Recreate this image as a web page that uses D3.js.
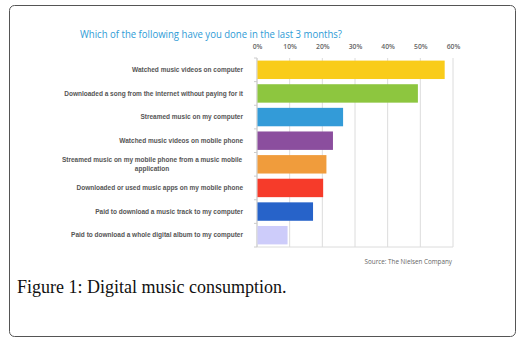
<!DOCTYPE html>
<html>
<head>
<meta charset="utf-8">
<script src="https://cdn.jsdelivr.net/npm/d3@7"></script>
<style>
  body { margin: 0; background: #fff; }
  svg { display: block; }
</style>
</head>
<body>
<div id="chart"></div>
<script>
const categories = [
  "Watched music videos on computer",
  "Downloaded a song from the internet without paying for it",
  "Streamed music on my computer",
  "Watched music videos on mobile phone",
  "Streamed music on my mobile phone from a music mobile|application",
  "Downloaded or used music apps on my mobile phone",
  "Paid to download a music track to my computer",
  "Paid to download a whole digital album to my computer"
];
const values = [57.3, 49.1, 26.2, 23.1, 21.1, 20.1, 17.0, 9.2];
const barColors = ["#f9cc1a", "#8dc63f", "#339bd8", "#8b4e9e", "#f09c3c", "#f63b2a", "#2763c9", "#cdccfa"];
const ticks = [0, 10, 20, 30, 40, 50, 60];

const W = 532, H = 343;
const margin = {top: 58, left: 257, right: 79, bottom: 96};
const width = W - margin.left - margin.right;
const height = H - margin.top - margin.bottom;

const root = d3.select("#chart").append("svg")
    .attr("width", W)
    .attr("height", H);

// frame
root.append("rect")
    .attr("x", 9.5).attr("y", 5.5)
    .attr("width", 506).attr("height", 331)
    .attr("rx", 5)
    .attr("fill", "none")
    .attr("stroke", "#555")
    .attr("stroke-width", 1);

// title
root.append("text")
    .attr("x", 80).attr("y", 38)
    .attr("fill", "#2e9bd6")
    .attr("textLength", 262)
    .attr("lengthAdjust", "spacingAndGlyphs")
    .style("font-family", "'Open Sans', sans-serif")
    .style("font-size", "10.5px")
    .text("Which of the following have you done in the last 3 months?");

const svg = root.append("g")
    .attr("transform", `translate(${margin.left},${margin.top})`);

const x = d3.scaleLinear().domain([0, 60]).range([0, width]);
const y = d3.scaleBand().domain(categories).range([0, height]).paddingInner(0.22).paddingOuter(0.11);

// grid
svg.selectAll(".grid")
    .data(ticks)
    .enter().append("line")
    .attr("class", "grid")
    .attr("x1", d => x(d)).attr("x2", d => x(d))
    .attr("y1", 0).attr("y2", height)
    .attr("stroke", "#dcdcdc")
    .attr("stroke-width", 1);

svg.append("line")
    .attr("x1", 0).attr("x2", width)
    .attr("y1", height).attr("y2", height)
    .attr("stroke", "#dcdcdc");

// left axis ticks between categories
const n = categories.length;
svg.selectAll(".ytick")
    .data(d3.range(n + 1))
    .enter().append("line")
    .attr("x1", -3).attr("x2", 0)
    .attr("y1", i => i * height / n)
    .attr("y2", i => i * height / n)
    .attr("stroke", "#ccc");

svg.append("line")
    .attr("x1", 0).attr("x2", 0)
    .attr("y1", 0).attr("y2", height)
    .attr("stroke", "#ccc");

// top axis labels
const xAxis = d3.axisTop(x)
    .tickValues(ticks)
    .tickSize(0)
    .tickFormat(d => d + "%");

svg.append("g")
    .attr("transform", "translate(0,-7)")
    .call(xAxis)
    .call(g => g.select(".domain").remove())
    .selectAll("text")
    .attr("dy", "0.1em")
    .attr("fill", "#666")
    .style("font-family", "'Open Sans', sans-serif")
    .style("font-weight", "600")
    .style("font-size", "6.8px");

// bars
svg.selectAll(".bar")
    .data(values)
    .enter().append("rect")
    .attr("class", "bar")
    .attr("x", 0.5)
    .attr("y", (d, i) => y(categories[i]))
    .attr("width", d => x(d))
    .attr("height", y.bandwidth())
    .attr("fill", (d, i) => barColors[i]);

// category labels
const labels = svg.selectAll(".cat")
    .data(categories)
    .enter().append("text")
    .attr("class", "cat")
    .attr("fill", "#555")
    .style("font-family", "'Liberation Sans', Arial, sans-serif")
    .style("font-weight", "bold")
    .style("font-size", "6.5px");

labels.each(function(d) {
    const lines = d.split("|");
    const t = d3.select(this);
    const cy = y(d) + y.bandwidth() / 2;
    const x0 = lines.length > 1 ? -105 : -14;
    t.attr("text-anchor", lines.length > 1 ? "middle" : "end");
    lines.forEach((ln, k) => {
        t.append("tspan")
            .attr("x", x0)
            .attr("y", cy + 2.3 + (k - (lines.length - 1) / 2) * 9)
            .text(ln);
    });
});

// source
root.append("text")
    .attr("x", 452).attr("y", 264)
    .attr("text-anchor", "end")
    .attr("fill", "#666")
    .style("font-family", "'Open Sans', sans-serif")
    .style("font-size", "6.3px")
    .text("Source: The Nielsen Company");

// caption
root.append("text")
    .attr("x", 17).attr("y", 293)
    .attr("fill", "#111")
    .style("font-family", "'Liberation Serif', serif")
    .style("font-size", "18px")
    .text("Figure 1: Digital music consumption.");
</script>
</body>
</html>
